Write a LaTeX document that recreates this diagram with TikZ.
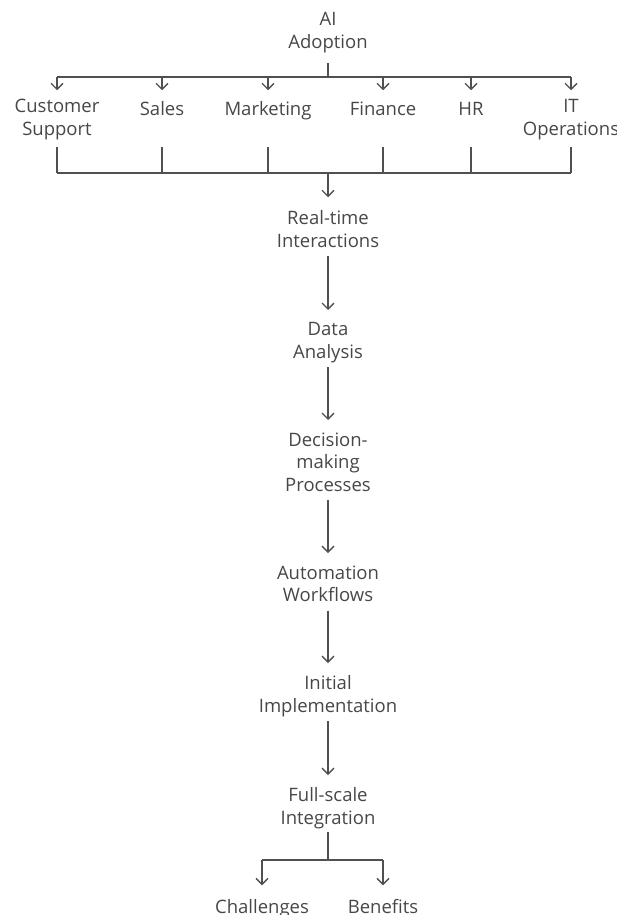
\documentclass[tikz,border=0pt]{standalone}
\usepackage{fontspec}
\setmainfont{Open Sans}
\usetikzlibrary{arrows.meta}
\definecolor{ink}{HTML}{505050}
\definecolor{txt}{HTML}{474747}
\begin{document}
\begin{tikzpicture}[x=1pt,y=-1pt,
  lbl/.style={inner sep=0pt, align=center, text=txt, anchor=north,
    font=\fontsize{18.5}{22.5}\selectfont,
    execute at begin node=\strut, execute at end node=\strut},
  link/.style={draw=ink, line width=1.4pt},
  arr/.style={link, -{Straight Barb[length=6pt,width=12pt]}},
]
\useasboundingbox (0,0) rectangle (617,915);

% root and first-level branches (positions are the top of the first line)
\node[lbl] (ai) at (328,12.25) {AI\\Adoption};
\node[lbl] (cs) at (57,99.25)  {Customer\\Support};
\node[lbl] (sa) at (162,99.25) {Sales};
\node[lbl] (mk) at (268,99.25) {Marketing};
\node[lbl] (fi) at (383,99.25) {Finance};
\node[lbl] (hr) at (471,99.25) {HR};
\node[lbl] (it) at (571,99.25) {IT\\Operations};

% main sequence
\node[lbl] (rt) at (328,210.25) {Real-time\\Interactions};
\node[lbl] (da) at (328,322.25) {Data\\Analysis};
\node[lbl] (dm) at (328,432.25) {Decision-\\making\\Processes};
\node[lbl] (aw) at (328,565.25) {Automation\\Workflows};
\node[lbl] (ii) at (328,675.25) {Initial\\Implementation};
\node[lbl] (fs) at (328,787.25) {Full-scale\\Integration};
\node[lbl] (ch) at (262,897.25) {Challenges};
\node[lbl] (be) at (383,897.25) {Benefits};

% junction points of the buses
\coordinate (fan) at (328,77);
\coordinate (risetop) at (0,147);
\coordinate (gather) at (328,173);
\coordinate (split) at (328,860);

% fan-out from the root
\draw[link, shorten <=8pt] (ai.south) -- (fan);
\draw[link] (cs |- fan) -- (it |- fan);
\foreach \n in {cs,sa,mk,fi,hr,it}
  \draw[arr, shorten >=9pt] (\n |- fan) -- (\n.north);

% gather back into one line
\foreach \n in {cs,sa,mk,fi,hr,it}
  \draw[link] (\n |- risetop) -- (\n |- gather);
\draw[link] (cs |- gather) -- (it |- gather);
\draw[arr, shorten >=13pt] (gather) -- (rt.north);

% sequential steps
\foreach \a/\b in {rt/da, da/dm, dm/aw, aw/ii, ii/fs}
  \draw[arr, shorten <=2.25pt, shorten >=12.25pt] (\a.south) -- (\b.north);

% final split
\draw[link, shorten <=1.5pt] (fs.south) -- (split);
\draw[link] (ch |- split) -- (be |- split);
\draw[arr, shorten >=12pt] (ch |- split) -- (ch.north);
\draw[arr, shorten >=12pt] (be |- split) -- (be.north);
\end{tikzpicture}
\end{document}
